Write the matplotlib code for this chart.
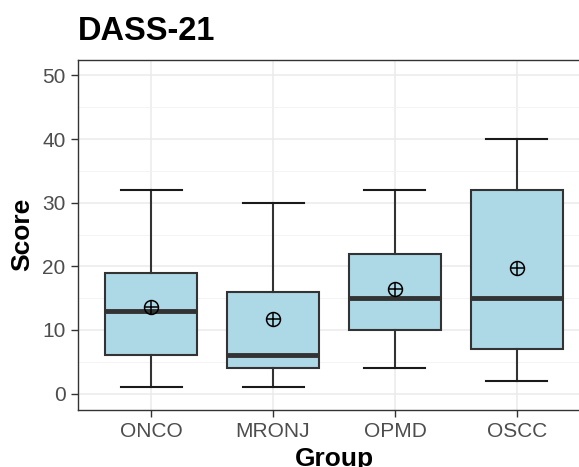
import matplotlib
matplotlib.use("Agg")
import matplotlib.pyplot as plt

# Boxplot summary for each group
groups = ["ONCO", "MRONJ", "OPMD", "OSCC"]
whislo = [1, 1, 4, 2]
q1 = [6, 4, 10, 7]
med = [13, 6, 15, 15]
q3 = [19, 16, 22, 32]
whishi = [32, 30, 32, 40]
means = [13.6, 11.7, 16.4, 19.7]

plt.rcParams['font.family'] = ['Liberation Sans', 'DejaVu Sans']

fig = plt.figure(figsize=(5.79, 4.67), dpi=100)
ax = fig.add_axes([78 / 579, 57.5 / 467, 512 / 579, 350 / 467])

stats = []
for i, g in enumerate(groups):
    stats.append({"label": g, "whislo": whislo[i], "q1": q1[i], "med": med[i],
                  "q3": q3[i], "whishi": whishi[i], "mean": means[i], "fliers": []})

pos = list(range(1, len(groups) + 1))
edge = "#333333"
ax.bxp(stats, positions=pos, widths=0.75, patch_artist=True, showmeans=False,
       boxprops=dict(facecolor="#ADD8E6", edgecolor=edge, linewidth=1.5),
       medianprops=dict(color=edge, linewidth=3.5, solid_capstyle="butt"),
       whiskerprops=dict(color=edge, linewidth=1.5),
       capprops=dict(color="#1a1a1a", linewidth=1.5), capwidths=0.5, zorder=3)

# mean marker: circle with plus
ax.plot(pos, means, linestyle="none", marker="o", markersize=10, markerfacecolor="none",
        markeredgecolor="black", markeredgewidth=1.1, zorder=5)
ax.plot(pos, means, linestyle="none", marker="+", markersize=10,
        markeredgecolor="black", markeredgewidth=1.1, zorder=5)

ax.set_xlim(0.4, 4.6)
ax.set_ylim(-2.5, 52.5)
ax.set_yticks([0, 10, 20, 30, 40, 50])
ax.set_yticks([5, 15, 25, 35, 45], minor=True)
ax.set_xticks(pos)
ax.set_xticklabels(groups)

ax.grid(True, which="major", color="#EBEBEB", linewidth=1.1, zorder=0)
ax.grid(True, which="minor", axis="y", color="#F2F2F2", linewidth=0.6, zorder=0)
ax.set_axisbelow(True)
ax.tick_params(which="minor", length=0)
ax.tick_params(which="major", length=5, width=1.0, color=edge, labelsize=15,
               labelcolor="#4D4D4D", pad=4)
for s in ax.spines.values():
    s.set_color(edge)
    s.set_linewidth(1.0)

ax.set_title("DASS-21", loc="left", fontsize=23.5, fontweight="bold", pad=14)
ax.set_ylabel("Score", fontsize=19, fontweight="bold", labelpad=6)
ax.set_xlabel("Group", fontsize=19, fontweight="bold", labelpad=4)

fig.savefig("out.png", dpi=100)
